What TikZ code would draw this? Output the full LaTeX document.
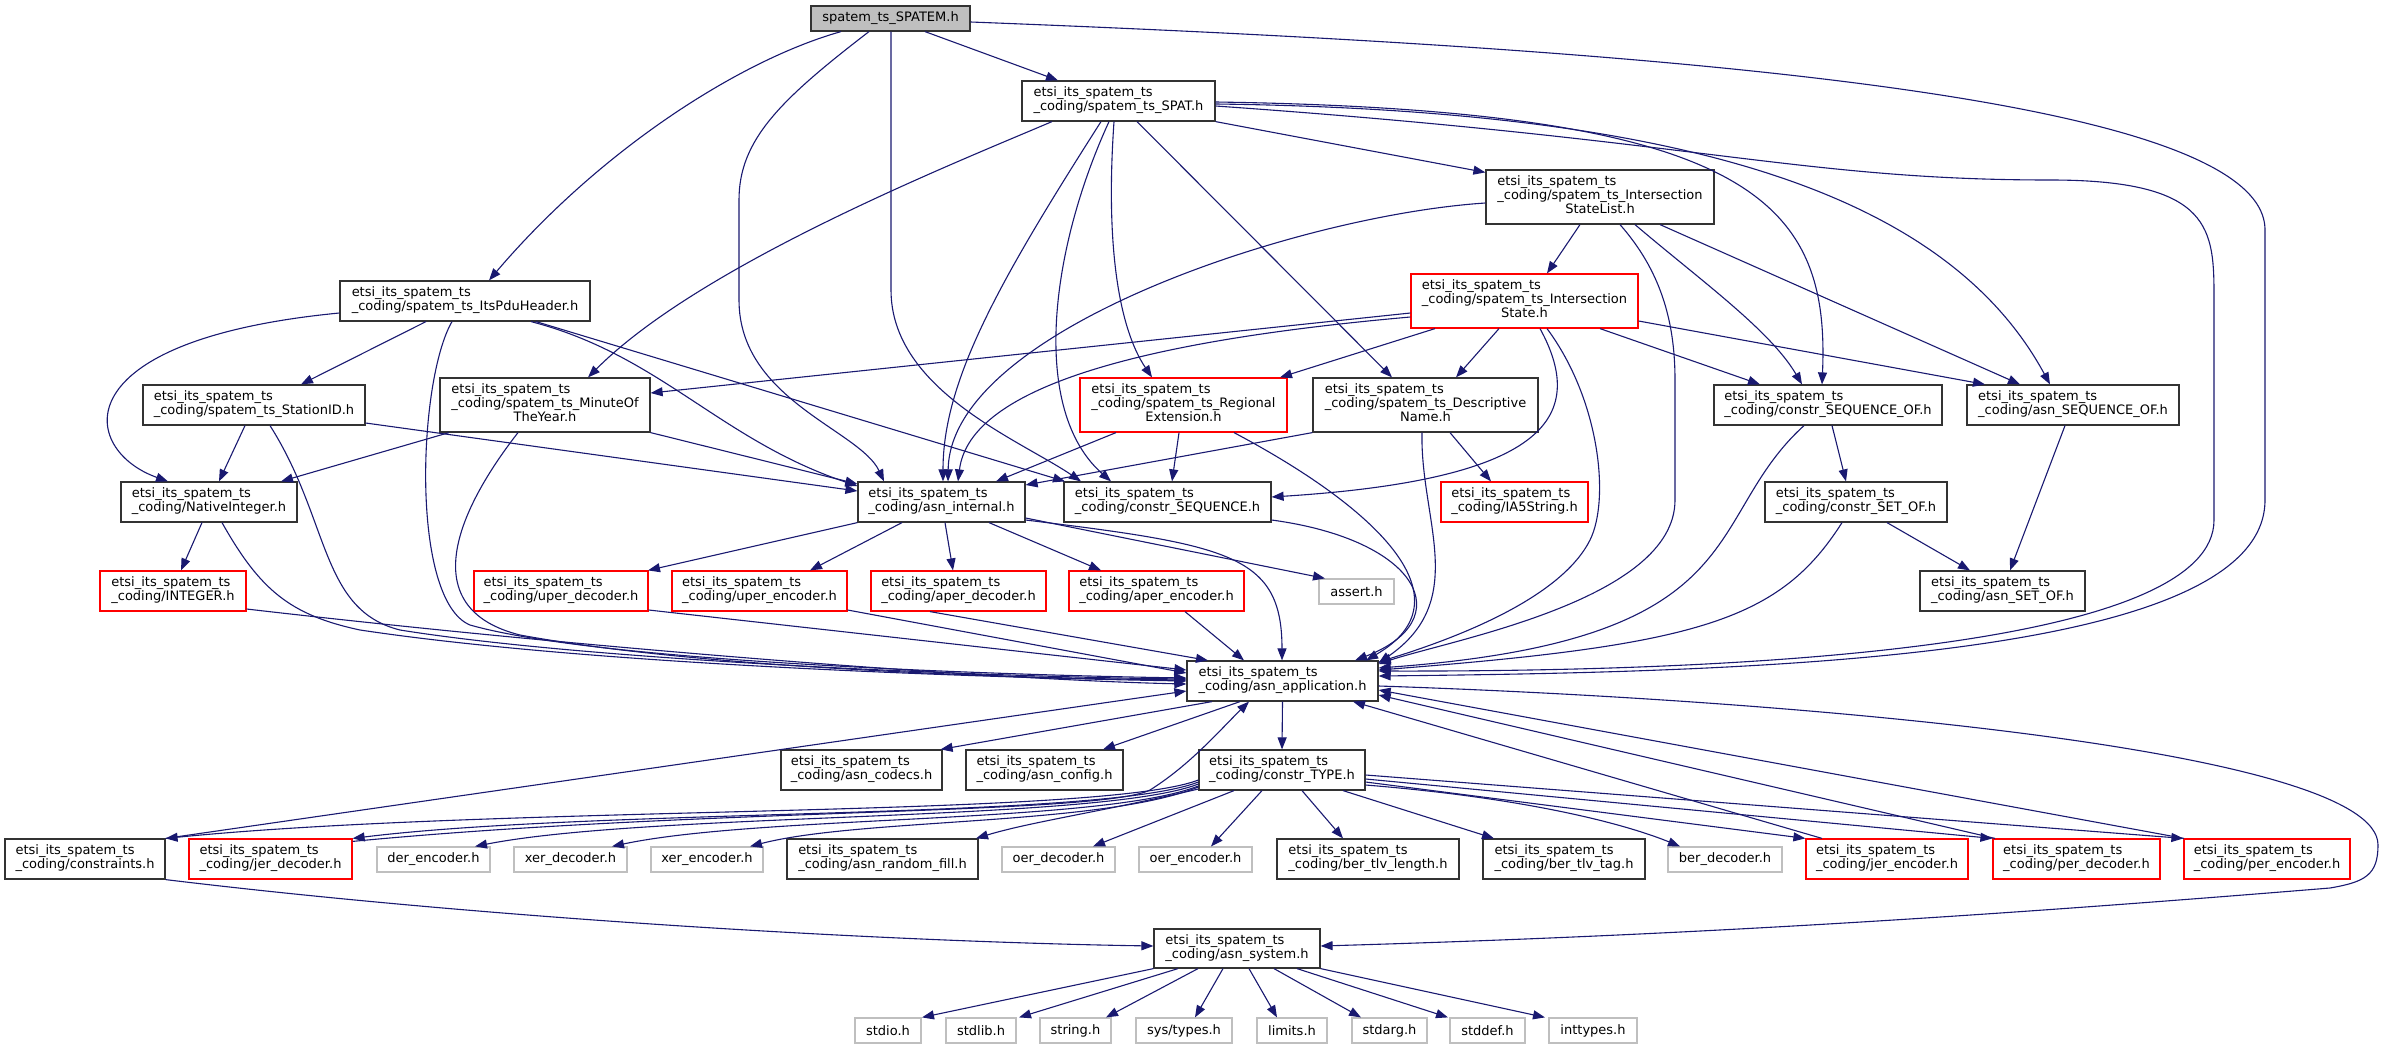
\documentclass[tikz,border=0pt]{standalone}
\usepackage{fontspec}
\setmainfont{DejaVu Sans}
\usetikzlibrary{arrows.meta}
\definecolor{midblue}{HTML}{191970}
\newcommand{\hdr}[1]{\begin{tabular}{@{}l@{}}etsi\_its\_spatem\_ts\\#1\end{tabular}}
\newcommand{\hdrr}[2]{\begin{tabular}{@{}l@{}}etsi\_its\_spatem\_ts\\#1\\\multicolumn{1}{@{}c@{}}{#2}\end{tabular}}
\begin{document}
\begin{tikzpicture}[x=1pt,y=-1pt,
	hdrbox/.style={draw=black!80,line width=1.2pt,fill=white,inner sep=0pt,minimum height=40pt,font=\fontsize{13}{14}\selectfont},
	redbox/.style={hdrbox,draw=red},
	sysbox/.style={hdrbox,draw=black!25,minimum height=25pt},
	tall/.style={minimum height=54pt},
	incl/.style={draw=midblue,line width=1.1pt,-{Triangle[length=12pt,width=9pt]}}]
	\useasboundingbox (0,0) rectangle (2385,1049);
	\node[hdrbox,fill=black!25,minimum height=25pt,minimum width=159pt] (spatem) at (890.5,18.5) {spatem\_ts\_SPATEM.h};
	\node[hdrbox,minimum width=193pt] (spat) at (1118.5,101) {\hdr{\_coding/spatem\_ts\_SPAT.h}};
	\node[hdrbox,tall,minimum width=228pt] (islist) at (1600,197) {\hdrr{\_coding/spatem\_ts\_Intersection}{StateList.h}};
	\node[redbox,tall,minimum width=227pt] (istate) at (1524.5,301) {\hdrr{\_coding/spatem\_ts\_Intersection}{State.h}};
	\node[hdrbox,minimum width=250pt] (pdu) at (465,301) {\hdr{\_coding/spatem\_ts\_ItsPduHeader.h}};
	\node[hdrbox,minimum width=222pt] (station) at (254,405) {\hdr{\_coding/spatem\_ts\_StationID.h}};
	\node[hdrbox,tall,minimum width=210pt] (minute) at (545,405) {\hdrr{\_coding/spatem\_ts\_MinuteOf}{TheYear.h}};
	\node[redbox,tall,minimum width=207pt] (regional) at (1183.5,405) {\hdrr{\_coding/spatem\_ts\_Regional}{Extension.h}};
	\node[hdrbox,tall,minimum width=225pt] (descr) at (1425.5,405) {\hdrr{\_coding/spatem\_ts\_Descriptive}{Name.h}};
	\node[hdrbox,minimum width=228pt] (cseqof) at (1828,405) {\hdr{\_coding/constr\_SEQUENCE\_OF.h}};
	\node[hdrbox,minimum width=212pt] (aseqof) at (2073,405) {\hdr{\_coding/asn\_SEQUENCE\_OF.h}};
	\node[hdrbox,minimum width=176pt] (native) at (209,502) {\hdr{\_coding/NativeInteger.h}};
	\node[hdrbox,minimum width=167pt] (internal) at (941.5,502) {\hdr{\_coding/asn\_internal.h}};
	\node[hdrbox,minimum width=207pt] (cseq) at (1167.5,502) {\hdr{\_coding/constr\_SEQUENCE.h}};
	\node[redbox,minimum width=147pt] (ia5) at (1514.5,502) {\hdr{\_coding/IA5String.h}};
	\node[hdrbox,minimum width=182pt] (csetof) at (1856,502) {\hdr{\_coding/constr\_SET\_OF.h}};
	\node[redbox,minimum width=146pt] (integer) at (173,591) {\hdr{\_coding/INTEGER.h}};
	\node[redbox,minimum width=174pt] (uperdec) at (561,591) {\hdr{\_coding/uper\_decoder.h}};
	\node[redbox,minimum width=175pt] (uperenc) at (759.5,591) {\hdr{\_coding/uper\_encoder.h}};
	\node[redbox,minimum width=175pt] (aperdec) at (958.5,591) {\hdr{\_coding/aper\_decoder.h}};
	\node[redbox,minimum width=175pt] (aperenc) at (1156.5,591) {\hdr{\_coding/aper\_encoder.h}};
	\node[sysbox,minimum width=75pt] (assert) at (1356.5,591.5) {assert.h};
	\node[hdrbox,minimum width=165pt] (asetof) at (2002.5,591) {\hdr{\_coding/asn\_SET\_OF.h}};
	\node[hdrbox,minimum width=191pt] (app) at (1282.5,681) {\hdr{\_coding/asn\_application.h}};
	\node[hdrbox,minimum width=161pt] (codecs) at (861.5,770) {\hdr{\_coding/asn\_codecs.h}};
	\node[hdrbox,minimum width=157pt] (config) at (1044.5,770) {\hdr{\_coding/asn\_config.h}};
	\node[hdrbox,minimum width=166pt] (ctype) at (1282,770) {\hdr{\_coding/constr\_TYPE.h}};
	\node[hdrbox,minimum width=160pt] (constraints) at (85,859) {\hdr{\_coding/constraints.h}};
	\node[redbox,minimum width=163pt] (jerdec) at (270.5,859) {\hdr{\_coding/jer\_decoder.h}};
	\node[sysbox,minimum width=113pt] (derenc) at (433.5,859.5) {der\_encoder.h};
	\node[sysbox,minimum width=113pt] (xerdec) at (570.5,859.5) {xer\_decoder.h};
	\node[sysbox,minimum width=112pt] (xerenc) at (707,859.5) {xer\_encoder.h};
	\node[hdrbox,minimum width=191pt] (randfill) at (882.5,859) {\hdr{\_coding/asn\_random\_fill.h}};
	\node[sysbox,minimum width=113pt] (oerdec) at (1058.5,859.5) {oer\_decoder.h};
	\node[sysbox,minimum width=113pt] (oerenc) at (1195.5,859.5) {oer\_encoder.h};
	\node[hdrbox,minimum width=182pt] (tlvlen) at (1368,859) {\hdr{\_coding/ber\_tlv\_length.h}};
	\node[hdrbox,minimum width=162pt] (tlvtag) at (1564,859) {\hdr{\_coding/ber\_tlv\_tag.h}};
	\node[sysbox,minimum width=114pt] (berdec) at (1725,859.5) {ber\_decoder.h};
	\node[redbox,minimum width=162pt] (jerenc) at (1887,859) {\hdr{\_coding/jer\_encoder.h}};
	\node[redbox,minimum width=167pt] (perdec) at (2076.5,859) {\hdr{\_coding/per\_decoder.h}};
	\node[redbox,minimum width=166pt] (perenc) at (2267,859) {\hdr{\_coding/per\_encoder.h}};
	\node[hdrbox,minimum width=166pt,minimum height=39pt] (system) at (1237,948.5) {\hdr{\_coding/asn\_system.h}};
	\node[sysbox,minimum width=66pt] (stdio) at (888,1030.5) {stdio.h};
	\node[sysbox,minimum width=70pt] (stdlib) at (981,1030.5) {stdlib.h};
	\node[sysbox,minimum width=71pt] (string) at (1075.5,1030.5) {string.h};
	\node[sysbox,minimum width=96pt] (systypes) at (1184,1030.5) {sys/types.h};
	\node[sysbox,minimum width=70pt] (limits) at (1292,1030.5) {limits.h};
	\node[sysbox,minimum width=75pt] (stdarg) at (1389.5,1030.5) {stdarg.h};
	\node[sysbox,minimum width=75pt] (stddef) at (1487.5,1030.5) {stddef.h};
	\node[sysbox,minimum width=88pt] (inttypes) at (1593,1030.5) {inttypes.h};

	\draw[incl] ([xshift=-49.5pt]spatem.south) .. controls (740,60) and (600,150) .. ([xshift=24pt]pdu.north);
	\draw[incl] ([xshift=-21.5pt]spatem.south) .. controls (780,100) and (739,140) .. (739,200) -- (739,300) .. controls (739,400) and (860,430) .. ([xshift=-57.5pt]internal.north);
	\draw[incl] ([xshift=0.5pt]spatem.south) -- (891,290) .. controls (891,390) and (1020,440) .. ([xshift=-86.5pt]cseq.north);
	\draw[incl] ([xshift=34.5pt]spatem.south) -- ([xshift=-60.5pt]spat.north);
	\draw[incl] ([yshift=-3.5pt]spatem.east) .. controls (1700,50) and (2265,100) .. (2265,230) -- (2265,500) .. controls (2265,660) and (1750,672) .. ([yshift=5pt]app.east);
	\draw[incl] ([xshift=-66.5pt]spat.south) .. controls (950,165) and (700,265) .. ([xshift=43pt]minute.north);
	\draw[incl] ([xshift=-17.5pt]spat.south) .. controls (1000,280) and (943,380) .. ([xshift=1.5pt]internal.north);
	\draw[incl] ([xshift=-9.5pt]spat.south) .. controls (1050,250) and (1030,410) .. ([xshift=-56.5pt]cseq.north);
	\draw[incl] ([xshift=-4.5pt]spat.south) .. controls (1105,250) and (1120,330) .. ([xshift=-31.5pt]regional.north);
	\draw[incl] ([xshift=18.5pt]spat.south) -- ([xshift=-33.5pt]descr.north);
	\draw[incl] (spat.south east) -- ([yshift=-3pt]islist.north west);
	\draw[incl] ([yshift=-1pt]spat.east) .. controls (1750,110) and (1830,200) .. ([xshift=-6pt]cseqof.north);
	\draw[incl] ([yshift=-3pt]spat.east) .. controls (1700,110) and (1950,200) .. ([xshift=-23pt]aseqof.north);
	\draw[incl] ([yshift=-5pt]spat.east) .. controls (1700,140) and (1800,180) .. (2050,180) .. controls (2214,180) and (2214,230) .. (2214,300) -- (2214,520) .. controls (2214,640) and (1800,672) .. ([yshift=10pt]app.east);
	\draw[incl] ([xshift=-20pt]islist.south) -- ([xshift=22.5pt]istate.north);
	\draw[incl] ([yshift=-6pt]islist.west) .. controls (1300,215) and (950,330) .. ([xshift=6.5pt]internal.north);
	\draw[incl] ([xshift=20pt]islist.south) .. controls (1660,270) and (1675,320) .. (1675,380) -- (1675,500) .. controls (1675,600) and (1450,640) .. ([yshift=17pt]app.east);
	\draw[incl] ([xshift=35pt]islist.south) .. controls (1700,280) and (1770,330) .. ([xshift=-26pt]cseqof.north);
	\draw[incl] ([xshift=60pt]islist.south) -- ([xshift=-53pt]aseqof.north);
	\draw[incl] ([yshift=-12pt]istate.west) -- ([yshift=12pt]minute.east);
	\draw[incl] ([yshift=-16pt]istate.west) .. controls (1150,340) and (970,385) .. ([xshift=16.5pt]internal.north);
	\draw[incl] ([xshift=-89.5pt]istate.south) -- ([xshift=96.5pt]regional.north);
	\draw[incl] ([xshift=-25.5pt]istate.south) -- ([xshift=30.5pt]descr.north);
	\draw[incl] ([xshift=15.5pt]istate.south) .. controls (1590,420) and (1540,480) .. ([yshift=5pt]cseq.east);
	\draw[incl] ([xshift=22.5pt]istate.south) .. controls (1600,400) and (1610,500) .. (1590,540) .. controls (1560,600) and (1450,640) .. ([yshift=19pt]app.east);
	\draw[incl] ([xshift=75.5pt]istate.south) -- ([xshift=-68pt]cseqof.north);
	\draw[incl] ([yshift=-20pt]istate.east) -- ([xshift=-88pt]aseqof.north);
	\draw[incl] ([xshift=-39pt]pdu.south) -- ([xshift=47pt]station.north);
	\draw[incl] ([yshift=-12pt]pdu.west) .. controls (60,340) and (80,450) .. ([xshift=-41pt]native.north);
	\draw[incl] ([xshift=-13pt]pdu.south) .. controls (418,380) and (410,600) .. (470,625) .. controls (600,662) and (1000,675) .. ([yshift=3pt]app.west);
	\draw[incl] ([xshift=66pt]pdu.south) .. controls (660,355) and (720,440) .. ([yshift=16pt]internal.west);
	\draw[incl] ([xshift=71pt]pdu.south) -- ([xshift=-102.5pt]cseq.north);
	\draw[incl] ([xshift=-9pt]station.south) -- ([xshift=10pt]native.north);
	\draw[incl] ([xshift=16pt]station.south) .. controls (330,520) and (320,610) .. (400,630) .. controls (600,662) and (1000,677) .. ([yshift=2pt]app.west);
	\draw[incl] ([yshift=-18pt]station.east) -- ([yshift=11pt]internal.west);
	\draw[incl] ([xshift=-96pt]minute.south) -- ([xshift=72pt]native.north);
	\draw[incl] ([xshift=-27pt]minute.south) .. controls (450,520) and (420,610) .. (520,635) .. controls (700,668) and (1000,678) .. ([yshift=1pt]app.west);
	\draw[incl] (minute.south east) -- ([yshift=18pt]internal.west);
	\draw[incl] ([xshift=-7pt]native.south) -- ([xshift=8pt]integer.north);
	\draw[incl] ([xshift=13pt]native.south) .. controls (260,590) and (290,615) .. (360,630) .. controls (600,666) and (1000,678) .. (app.west);
	\draw[incl] ([yshift=-18pt]integer.east) .. controls (600,650) and (1000,680) .. ([yshift=-3pt]app.west);
	\draw[incl] ([xshift=-67.5pt]regional.south) -- ([xshift=54.5pt]internal.north);
	\draw[incl] ([xshift=-4.5pt]regional.south) -- ([xshift=4.5pt]cseq.north);
	\draw[incl] ([xshift=50.5pt]regional.south) .. controls (1380,510) and (1470,600) .. ([xshift=83.5pt]app.north);
	\draw[incl] (descr.south west) -- ([yshift=17pt]internal.east);
	\draw[incl] ([xshift=24.5pt]descr.south) -- ([xshift=-23.5pt]ia5.north);
	\draw[incl] ([xshift=-3.5pt]descr.south) .. controls (1420,520) and (1470,600) .. ([yshift=18pt]app.east);
	\draw[incl] ([yshift=-18pt]cseq.east) .. controls (1420,540) and (1460,620) .. ([xshift=72.5pt]app.north);
	\draw[incl] ([xshift=4pt]cseqof.south) -- ([xshift=-10pt]csetof.north);
	\draw[incl] ([xshift=-24pt]cseqof.south) .. controls (1700,520) and (1760,640) .. ([yshift=13pt]app.east);
	\draw[incl] ([xshift=31pt]csetof.south) -- ([xshift=-32.5pt]asetof.north);
	\draw[incl] ([xshift=-14pt]csetof.south) .. controls (1780,620) and (1700,645) .. ([yshift=11pt]app.east);
	\draw[incl] ([xshift=-8pt]aseqof.south) -- ([xshift=7.5pt]asetof.north);
	\draw[incl] (internal.south west) -- ([xshift=87pt]uperdec.north);
	\draw[incl] ([xshift=-39.5pt]internal.south) -- ([xshift=50.5pt]uperenc.north);
	\draw[incl] ([xshift=3.5pt]internal.south) -- ([xshift=-5.5pt]aperdec.north);
	\draw[incl] ([xshift=47.5pt]internal.south) -- ([xshift=-55.5pt]aperenc.north);
	\draw[incl] ([yshift=-16pt]internal.east) -- ([xshift=-31.5pt]assert.north);
	\draw[incl] ([yshift=-18pt]internal.east) .. controls (1230,545) and (1282,555) .. ([xshift=-0.5pt]app.north);
	\draw[incl] ([yshift=-19pt]uperdec.east) -- ([yshift=11pt]app.west);
	\draw[incl] ([yshift=-19pt]uperenc.east) -- ([yshift=8pt]app.west);
	\draw[incl] ([xshift=-28.5pt]aperdec.south) -- ([xshift=-74.5pt]app.north);
	\draw[incl] ([xshift=28.5pt]aperenc.south) -- ([xshift=-38.5pt]app.north);
	\draw[incl] ([xshift=-70.5pt]app.south) -- ([xshift=-2pt]codecs.north east);
	\draw[incl] ([xshift=-42.5pt]app.south) -- ([xshift=58.5pt]config.north);
	\draw[incl] (app.south) -- (ctype.north);
	\draw[incl] (constraints.north east) -- ([yshift=-10pt]app.west);
	\draw[incl] ([yshift=-5pt]app.east) .. controls (1800,700) and (2378,750) .. (2378,845) .. controls (2378,875) and (2365,882) .. (2330,888) .. controls (2000,915) and (1700,935) .. ([yshift=2.5pt]system.east);
	\draw[incl] (constraints.south east) .. controls (500,920) and (900,942) .. ([yshift=2.5pt]system.west);
	\draw[incl] ([yshift=-10pt]ctype.west) .. controls (1100,818) and (500,805) .. (constraints.north east);
	\draw[incl] ([yshift=-12pt]ctype.west) .. controls (1100,820) and (600,808) .. (jerdec.north east);
	\draw[incl] ([yshift=-14pt]ctype.west) .. controls (1100,822) and (650,812) .. ([xshift=41.5pt]derenc.north);
	\draw[incl] ([yshift=-16pt]ctype.west) .. controls (1100,824) and (760,815) .. ([xshift=41.5pt]xerdec.north);
	\draw[incl] ([yshift=-17pt]ctype.west) .. controls (1100,826) and (860,818) .. ([xshift=43pt]xerenc.north);
	\draw[incl] ([yshift=-19pt]ctype.west) .. controls (1100,812) and (1030,822) .. ([xshift=93.5pt]randfill.north);
	\draw[incl] ([yshift=-3pt]jerdec.north east) .. controls (700,808) and (1100,815) .. (1150,790) .. controls (1190,765) and (1220,730) .. ([xshift=-33.5pt]app.south);
	\draw[incl] ([xshift=-48pt]ctype.south) -- ([xshift=34.5pt]oerdec.north);
	\draw[incl] ([xshift=-20pt]ctype.south) -- ([xshift=15.5pt]oerenc.north);
	\draw[incl] ([xshift=20pt]ctype.south) -- ([xshift=-25pt]tlvlen.north);
	\draw[incl] ([xshift=61pt]ctype.south) -- ([xshift=-70pt]tlvtag.north);
	\draw[incl] ([yshift=-15pt]ctype.east) .. controls (1550,800) and (1640,830) .. ([xshift=-45pt]berdec.north);
	\draw[incl] ([yshift=-12pt]ctype.east) -- (jerenc.north west);
	\draw[incl] ([yshift=-9pt]ctype.east) -- (perdec.north west);
	\draw[incl] ([yshift=-5pt]ctype.east) -- (perenc.north west);
	\draw[incl] ([xshift=-65pt]jerenc.north) -- ([xshift=70.5pt]app.south);
	\draw[incl] ([xshift=-81.5pt]perdec.north) -- ([yshift=-14pt]app.east);
	\draw[incl] ([xshift=-83pt]perenc.north) -- ([yshift=-9pt]app.east);
	\draw[incl] (system.south west) -- ([xshift=34pt]stdio.north);
	\draw[incl] ([xshift=-59pt]system.south) -- ([xshift=38pt]stdlib.north);
	\draw[incl] ([xshift=-39pt]system.south) -- ([xshift=30.5pt]string.north);
	\draw[incl] ([xshift=-14pt]system.south) -- ([xshift=11pt]systypes.north);
	\draw[incl] ([xshift=12pt]system.south) -- ([xshift=-15pt]limits.north);
	\draw[incl] ([xshift=37pt]system.south) -- ([xshift=-28.5pt]stdarg.north);
	\draw[incl] ([xshift=60pt]system.south) -- ([xshift=-39.5pt]stddef.north);
	\draw[incl] (system.south east) -- ([xshift=-48pt]inttypes.north);
\end{tikzpicture}
\end{document}
